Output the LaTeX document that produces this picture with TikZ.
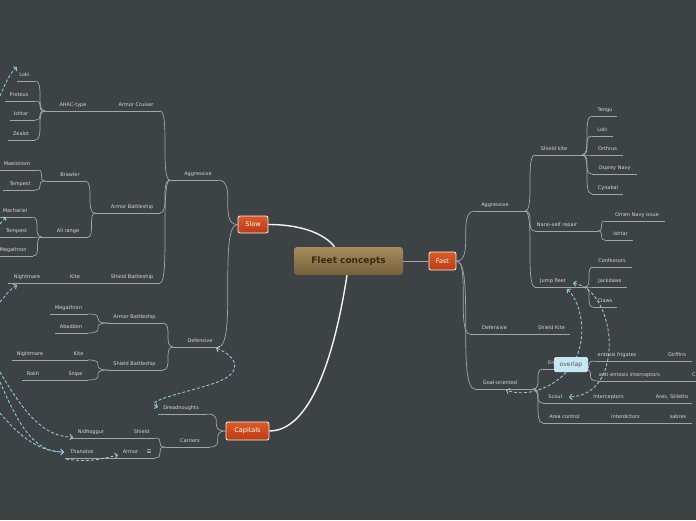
\documentclass[tikz,border=0pt]{standalone}
\usepackage{fontspec}
\setmainfont{DejaVu Sans}
\usetikzlibrary{arrows.meta,calc}
\definecolor{bgc}{HTML}{3D4244}
\definecolor{linec}{HTML}{A2A6A6}
\definecolor{txtc}{HTML}{D6D8D8}
\definecolor{relc}{HTML}{94C8DC}
\definecolor{orangetop}{HTML}{DD5A28}
\definecolor{orangebot}{HTML}{BD3A14}
\definecolor{browntop}{HTML}{A68B5C}
\definecolor{brownbot}{HTML}{75603C}
\definecolor{browntxt}{HTML}{3A2812}
\definecolor{ovl}{HTML}{C6E6F2}
\definecolor{ovltxt}{HTML}{4A5A60}
\tikzset{
  ul/.style={draw=linec,line width=0.7pt},
  cn/.style={draw=linec,line width=0.7pt},
  lbl/.style={text=txtc,font=\fontsize{5}{6}\selectfont,anchor=base,inner sep=0pt},
  mainln/.style={draw=white!92!gray,line width=1.4pt},
  rel/.style={draw=relc,line width=0.9pt,dash pattern=on 3pt off 2pt},
  rtip/.tip={Straight Barb[length=2.5pt,width=5.5pt]},
  obox/.style={draw=white!90!gray,line width=0.8pt,rounded corners=2pt,
    top color=orangetop,bottom color=orangebot,text=white,
    font=\fontsize{6.5}{7}\selectfont,inner sep=0pt},
}
\newcommand\mmtopic[6]{%
  \coordinate (#1-l) at (#2,#4);
  \coordinate (#1-r) at (#3,#4);
  \draw[ul] (#1-l) -- (#1-r);
  \node[lbl] (#1) at (#5,#4-4.5) {#6};
}
\newcommand\mmtopicw[6]{%
  \coordinate (#1-l) at (#2,#4);
  \coordinate (#1-r) at (#3,#4);
  \draw[ul] (#1-l) -- (#1-r);
  \node[lbl,anchor=base west] (#1) at (#5,#4-4.5) {#6};
}
\newcommand\mmconn[2]{\draw[cn] (#1) .. controls (#2 |- #1) and (#1 |- #2) .. (#2);}
\begin{document}
\begin{tikzpicture}[x=1pt,y=-1pt]
\useasboundingbox (0,0) rectangle (696,520);
\fill[bgc] (0,0) rectangle (696,520);

% main nodes
\node[rounded corners=3pt,top color=browntop,bottom color=brownbot,
  minimum width=109pt,minimum height=28pt,inner sep=0pt,
  font=\bfseries\fontsize{9}{10}\selectfont,text=browntxt] (fc) at (348.5,261) {Fleet concepts};
\node[obox,minimum width=27pt,minimum height=18pt] (fast) at (442.5,261) {Fast};
\node[obox,minimum width=30pt,minimum height=17pt] (slow) at (253,224.5) {Slow};
\node[obox,minimum width=43pt,minimum height=18pt] (cap) at (247.5,431) {Capitals};

\draw[cn,line width=1pt] (fc.east) -- (fast.west);
\draw[mainln] (slow.east) .. controls +(35,0) and +(-9,-12) .. ([xshift=-14pt]fc.north);
\draw[mainln] (cap.east) .. controls +(50,0) and +(-7,45) .. ([xshift=-1.5pt]fc.south);

% ---------- left side ----------
\mmtopic{aggr}{170}{218}{180}{198}{Aggressive}
\mmtopic{acru}{112}{160}{111}{136}{Armor Cruiser}
\mmtopic{ahac}{45}{112}{111}{73}{AHAC-type}
\mmtopic{lokia}{17}{35}{81}{24.5}{Loki}
\mmtopic{proteus}{5}{35}{101}{19}{Proteus}
\mmtopic{ishtara}{10}{35}{120}{21}{Ishtar}
\mmtopic{zealot}{8}{35}{140}{21}{Zealot}
\mmtopic{absa}{95}{160}{213}{132}{Armor Battleship}
\mmtopic{brawler}{45}{85}{181}{70}{Brawler}
\mmtopic{allrange}{42}{88}{237}{68}{All range}
\mmtopic{maelstrom}{0}{38}{170}{17}{Maelstrom}
\mmtopic{tempesta}{3}{35}{190}{20}{Tempest}
\mmtopic{machariel}{0}{32}{217}{15}{Machariel}
\mmtopic{tempestb}{0}{33}{237}{16.5}{Tempest}
\mmtopic{megathrona}{0}{33}{256}{13}{Megathron}
\mmtopic{sbsa}{100}{160}{283}{132}{Shield Battleship}
\mmtopic{kitea}{45}{100}{283}{75}{Kite}
\mmtopic{nightmarea}{8}{45}{283}{27}{Nightmare}
\mmtopic{defa}{173}{218}{347}{200}{Defensive}
\mmtopic{absb}{108}{163}{323}{134.5}{Armor Battleship}
\mmtopic{sbsb}{108}{163}{370}{134.5}{Shield Battleship}
\mmtopic{megathronb}{50}{88}{314}{68.5}{Megathron}
\mmtopic{abaddon}{55}{88}{333}{71}{Abaddon}
\mmtopic{kiteb}{50}{88}{360}{78.5}{Kite}
\mmtopic{nightmareb}{12}{50}{360}{30}{Nightmare}
\mmtopic{snipe}{50}{88}{380}{75.5}{Snipe}
\mmtopic{rokh}{22}{50}{380}{33}{Rokh}
\mmtopic{dread}{158}{207}{414}{181}{Dreadnoughts}
\mmtopic{carriers}{165}{210}{447}{190}{Carriers}
\mmtopic{shield}{110}{155}{438}{141.5}{Shield}
\mmtopic{nidhoggur}{70}{110}{438}{91}{Nidhoggur}
\mmtopic{armor}{110}{155}{458}{130.5}{Armor}
\mmtopic{thanatos}{65}{110}{458}{82}{Thanatos}
\node[lbl,text=white] (armoricon) at (149,453.5) {☰};

\mmconn{slow.west}{aggr-r}
\mmconn{slow.west}{defa-r}
\mmconn{aggr-l}{acru-r}
\mmconn{aggr-l}{absa-r}
\mmconn{aggr-l}{sbsa-r}
\mmconn{ahac-l}{lokia-r}
\mmconn{ahac-l}{proteus-r}
\mmconn{ahac-l}{ishtara-r}
\mmconn{ahac-l}{zealot-r}
\mmconn{absa-l}{brawler-r}
\mmconn{absa-l}{allrange-r}
\mmconn{brawler-l}{maelstrom-r}
\mmconn{brawler-l}{tempesta-r}
\mmconn{allrange-l}{machariel-r}
\mmconn{allrange-l}{tempestb-r}
\mmconn{allrange-l}{megathrona-r}
\mmconn{defa-l}{absb-r}
\mmconn{defa-l}{sbsb-r}
\mmconn{absb-l}{megathronb-r}
\mmconn{absb-l}{abaddon-r}
\mmconn{sbsb-l}{kiteb-r}
\mmconn{sbsb-l}{snipe-r}
\mmconn{cap.west}{dread-r}
\mmconn{cap.west}{carriers-r}
\mmconn{carriers-l}{shield-r}
\mmconn{carriers-l}{armor-r}

% ---------- right side ----------
\mmtopic{faggr}{475}{525}{211}{495}{Aggressive}
\mmtopic{skite}{535}{582}{155}{554}{Shield kite}
\mmtopic{nano}{535}{598}{231}{557}{Nano-self repair}
\mmtopic{jump}{535}{585}{287}{553}{Jump fleet}
\mmtopic{tengu}{592}{617}{116}{605}{Tengu}
\mmtopic{lokib}{592}{613}{136}{602.5}{Loki}
\mmtopic{orthrus}{592}{623}{155}{607.5}{Orthrus}
\mmtopic{osprey}{592}{637}{174}{614.5}{Osprey Navy}
\mmtopic{cynabal}{592}{623}{194}{608}{Cynabal}
\mmtopic{omen}{605}{665}{221}{637}{Omen Navy issue}
\mmtopic{ishtarb}{605}{633}{240}{620.5}{Ishtar}
\mmtopic{confessors}{593}{632}{267}{612}{Confessors}
\mmtopic{jackdaws}{593}{627}{287}{610}{Jackdaws}
\mmtopic{claws}{593}{617}{307}{605}{Claws}
\mmtopic{fdef}{470}{530}{334}{494.5}{Defensive}
\mmtopic{skiteb}{530}{570}{334}{551.5}{Shield Kite}
\mmtopic{goal}{475}{533}{389}{500}{Goal-oriented}
\mmtopicw{ent}{543}{583}{369}{548}{En}
\mmtopic{efrig}{595}{655}{361}{617}{entosis frigates}
\mmtopic{girffins}{655}{692}{361}{677}{Girffins}
\mmtopic{aei}{598}{682}{381}{629.5}{anti-entosis interceptors}
\mmtopicw{cc}{682}{700}{381}{692}{C}
\mmtopic{scout}{543}{585}{403}{555.5}{Scout}
\mmtopic{intercept}{585}{640}{403}{608.5}{Interceptors}
\mmtopic{ares}{640}{692}{403}{672}{Ares, Stiletto}
\mmtopic{area}{543}{598}{423}{564.5}{Area control}
\mmtopic{interdict}{598}{655}{423}{625.5}{interdictors}
\mmtopic{sabres}{655}{692}{423}{678}{sabres}

\mmconn{fast.east}{faggr-l}
\mmconn{fast.east}{fdef-l}
\mmconn{fast.east}{goal-l}
\mmconn{faggr-r}{skite-l}
\mmconn{faggr-r}{nano-l}
\mmconn{faggr-r}{jump-l}
\mmconn{skite-r}{tengu-l}
\mmconn{skite-r}{lokib-l}
\mmconn{skite-r}{orthrus-l}
\mmconn{skite-r}{osprey-l}
\mmconn{skite-r}{cynabal-l}
\mmconn{nano-r}{omen-l}
\mmconn{nano-r}{ishtarb-l}
\mmconn{jump-r}{confessors-l}
\mmconn{jump-r}{jackdaws-l}
\mmconn{jump-r}{claws-l}
\mmconn{goal-r}{ent-l}
\mmconn{goal-r}{scout-l}
\mmconn{goal-r}{area-l}
\mmconn{ent-r}{efrig-l}
\mmconn{ent-r}{aei-l}

% ---------- relationships ----------
\coordinate (e-loki) at (0,96);      \coordinate (t-loki) at (17,67);
\coordinate (e-mach) at (0,224);     \coordinate (t-mach) at (6,217);
\coordinate (e-night) at (0,302);    \coordinate (t-night) at (17,285);
\coordinate (t-def) at (216,348);    \coordinate (t-dread) at (158,407);
\coordinate (e-nid) at (0,372);      \coordinate (t-nid) at (73,437);
\coordinate (e-than1) at (0,382);    \coordinate (e-than2) at (0,413);
\coordinate (t-than) at (64,452);
\coordinate (e-arm) at (66,459);     \coordinate (t-arm) at (118,455);
\coordinate (t-jump1) at (573,283);  \coordinate (t-scout) at (569,397);
\coordinate (t-jump2) at (567,289);  \coordinate (t-goal) at (506,390);

\draw[rel,-rtip] (e-loki) .. controls (5,84) and (10,73) .. (t-loki);
\draw[rel,-rtip] (e-mach) .. controls (2,221) .. (t-mach);
\draw[rel,-rtip] (e-night) .. controls (6,295) and (10,289) .. (t-night);
\draw[rel,rtip-rtip] (t-def) .. controls (236,356) and (246,372) .. (215,383)
   .. controls (185,393) and (142,401) .. (t-dread);
\draw[rel,-rtip] (e-nid) .. controls (25,415) and (45,437) .. (t-nid);
\draw[rel,-rtip] (e-than1) .. controls (20,428) and (35,452) .. (t-than);
\draw[rel,-rtip] (e-than2) .. controls (20,437) and (40,452) .. (t-than);
\draw[rel,-rtip] (e-arm) .. controls (90,463) and (105,458) .. (t-arm);
\draw[rel,rtip-rtip] (t-jump1) .. controls (600,288) and (611,325) .. (609,350)
   .. controls (607,380) and (592,396) .. (t-scout);
\draw[rel,rtip-rtip] (t-jump2) .. controls (584,305) and (588,345) .. (570,368)
   .. controls (552,390) and (525,397) .. (t-goal);

\node[fill=ovl,rounded corners=1.5pt,minimum width=34pt,minimum height=15pt,inner sep=0pt,
  text=ovltxt,font=\fontsize{6}{7}\selectfont] (ovlbox) at (571,364.5) {overlap};
\end{tikzpicture}
\end{document}
